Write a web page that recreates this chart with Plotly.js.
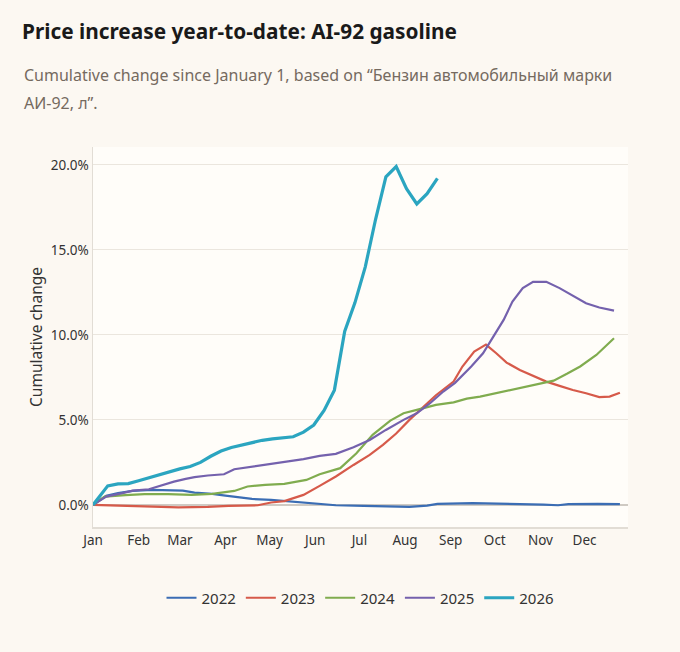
<!DOCTYPE html>
<html>
<head>
<meta charset="utf-8">
<script src="https://cdn.plot.ly/plotly-3.0.1.min.js"></script>
<style>
  html, body { margin: 0; padding: 0; background: #fcf8f2; }
  #chart { width: 680px; height: 652px; }
</style>
</head>
<body>
<div id="chart"></div>
<script>
// Month tick positions (day of year, Jan 1 = 0) and labels
const monthDays = [0, 31, 59, 90, 120, 151, 181, 212, 243, 273, 304, 334];
const monthLabels = ['Jan','Feb','Mar','Apr','May','Jun','Jul','Aug','Sep','Oct','Nov','Dec'];

// 2022
const days2022 = [0, 9, 17, 27, 40, 51, 61, 69, 81, 90, 99, 108, 121, 134, 150, 165, 184, 202, 215, 227, 234, 258, 282, 306, 316, 323, 343, 358];
const vals2022 = [0, 0.53, 0.69, 0.82, 0.88, 0.88, 0.84, 0.72, 0.65, 0.55, 0.45, 0.35, 0.29, 0.20, 0.06, -0.02, -0.06, -0.12, -0.12, -0.04, 0.06, 0.10, 0.08, 0.02, -0.02, 0.04, 0.06, 0.04];

// 2023
const days2023 = [0, 17, 40, 58, 78, 92, 112, 121, 130, 143, 154, 165, 177, 188, 197, 206, 215, 224, 233, 245, 251, 259, 267, 274, 281, 290, 299, 308, 317, 326, 335, 344, 351, 358];
const vals2023 = [0, -0.04, -0.08, -0.14, -0.12, -0.06, -0.02, 0.14, 0.22, 0.59, 1.12, 1.67, 2.35, 2.94, 3.53, 4.20, 5.00, 5.70, 6.45, 7.25, 8.14, 9.02, 9.43, 8.92, 8.37, 7.94, 7.59, 7.25, 7.00, 6.76, 6.57, 6.34, 6.37, 6.60];

// 2024
const days2024 = [0, 8, 22, 35, 51, 67, 81, 96, 105, 117, 130, 145, 154, 168, 179, 190, 202, 211, 220, 233, 245, 254, 263, 274, 285, 299, 313, 322, 331, 342, 354];
const vals2024 = [0, 0.49, 0.57, 0.63, 0.63, 0.59, 0.65, 0.82, 1.08, 1.18, 1.24, 1.47, 1.80, 2.16, 3.04, 4.12, 4.96, 5.39, 5.59, 5.88, 6.03, 6.25, 6.37, 6.57, 6.76, 7.04, 7.31, 7.71, 8.14, 8.82, 9.80];

// 2025
const days2025 = [0, 9, 20, 27, 38, 47, 55, 63, 69, 78, 89, 96, 108, 119, 130, 143, 154, 165, 177, 188, 199, 211, 220, 229, 238, 246, 257, 265, 272, 279, 285, 292, 299, 308, 317, 326, 335, 344, 354];
const vals2025 = [0, 0.49, 0.69, 0.84, 0.92, 1.18, 1.37, 1.53, 1.63, 1.73, 1.80, 2.10, 2.25, 2.41, 2.55, 2.69, 2.88, 3.00, 3.39, 3.82, 4.41, 5.00, 5.39, 5.98, 6.67, 7.18, 8.14, 8.92, 9.90, 10.88, 11.96, 12.75, 13.12, 13.12, 12.75, 12.29, 11.86, 11.61, 11.43];

// 2026
const days2026 = [0, 10, 17, 24, 31, 38, 45, 52, 59, 66, 73, 80, 87, 94, 101, 108, 115, 122, 129, 136, 143, 150, 157, 164, 171, 178, 185, 192, 199, 206, 213, 220, 227, 234];
const vals2026 = [0, 1.12, 1.24, 1.25, 1.42, 1.60, 1.75, 1.97, 2.12, 2.26, 2.50, 2.86, 3.17, 3.38, 3.52, 3.69, 3.80, 3.88, 3.96, 4.01, 4.28, 4.70, 5.55, 6.75, 10.20, 11.90, 14.00, 16.80, 19.30, 19.90, 18.60, 17.70, 18.30, 19.20];

const yTickVals = [0, 5, 10, 15, 20];
const yTickText = ['0.0%', '5.0%', '10.0%', '15.0%', '20.0%'];

const seriesNames = ['2022', '2023', '2024', '2025', '2026'];
const seriesColors = ['#3b6db4', '#d65a4a', '#80ac4f', '#7461ad', '#2ba5c0'];
const seriesWidths = [2.2, 2.2, 2.2, 2.2, 3.2];
const seriesDays = [days2022, days2023, days2024, days2025, days2026];
const seriesVals = [vals2022, vals2023, vals2024, vals2025, vals2026];

const FONT = 'Noto Sans, Open Sans, DejaVu Sans, sans-serif';

const traces = seriesNames.map((name, i) => ({
  type: 'scatter',
  mode: 'lines',
  name: name,
  x: seriesDays[i],
  y: seriesVals[i],
  line: { color: seriesColors[i], width: seriesWidths[i] },
  hoverinfo: 'skip'
}));

const layout = {
  width: 680,
  height: 652,
  paper_bgcolor: '#fcf8f2',
  plot_bgcolor: '#fffdf9',
  margin: { l: 93, r: 52, t: 147, b: 125 },
  font: { family: FONT, color: '#333333', size: 13 },
  title: {
    text: '<b>Price increase year-to-date: AI-92 gasoline</b>',
    x: 22 / 680, xanchor: 'left', xref: 'container',
    y: 1 - 32 / 652, yanchor: 'middle', yref: 'container',
    font: { family: FONT, size: 20.8, color: '#1a1a1a' }
  },
  annotations: [
    {
      text: 'Cumulative change since January 1, based on “Бензин автомобильный марки',
      xref: 'paper', yref: 'paper', x: (22 - 93) / 535, y: (527 - 75) / 380,
      xanchor: 'left', yanchor: 'middle', showarrow: false,
      font: { family: FONT, size: 16, color: '#756a5f' }
    },
    {
      text: 'АИ-92, л”.',
      xref: 'paper', yref: 'paper', x: (22 - 93) / 535, y: (527 - 103) / 380,
      xanchor: 'left', yanchor: 'middle', showarrow: false,
      font: { family: FONT, size: 16, color: '#756a5f' }
    }
  ],
  xaxis: {
    range: [0, 363.5],
    tickmode: 'array',
    tickvals: monthDays,
    ticktext: monthLabels,
    showgrid: false,
    zeroline: false,
    showline: true,
    linecolor: '#e2ddd5',
    linewidth: 1.5,
    ticks: '',
    tickfont: { size: 13.5, color: '#333333' },
    fixedrange: true
  },
  yaxis: {
    range: [-1.3, 21.05],
    tickmode: 'array',
    tickvals: yTickVals,
    ticktext: yTickText,
    showgrid: true,
    gridcolor: '#ebe6de',
    gridwidth: 1,
    zeroline: true,
    zerolinecolor: '#cfcac3',
    zerolinewidth: 1.2,
    showline: true,
    linecolor: '#e2ddd5',
    linewidth: 1.5,
    ticks: '',
    tickfont: { size: 13.5, color: '#333333' },
    title: { text: 'Cumulative change', font: { size: 15.5, color: '#333333' }, standoff: 4 },
    fixedrange: true
  },
  legend: {
    orientation: 'h',
    x: 0.5, xanchor: 'center',
    y: -(598 - 527) / 380, yanchor: 'middle',
    font: { size: 15, color: '#333333' },
    bgcolor: 'rgba(0,0,0,0)',
    itemwidth: 30,
    tracegroupgap: 0
  },
  showlegend: true
};

Plotly.newPlot('chart', traces, layout, { displayModeBar: false, staticPlot: true });
</script>
</body>
</html>
